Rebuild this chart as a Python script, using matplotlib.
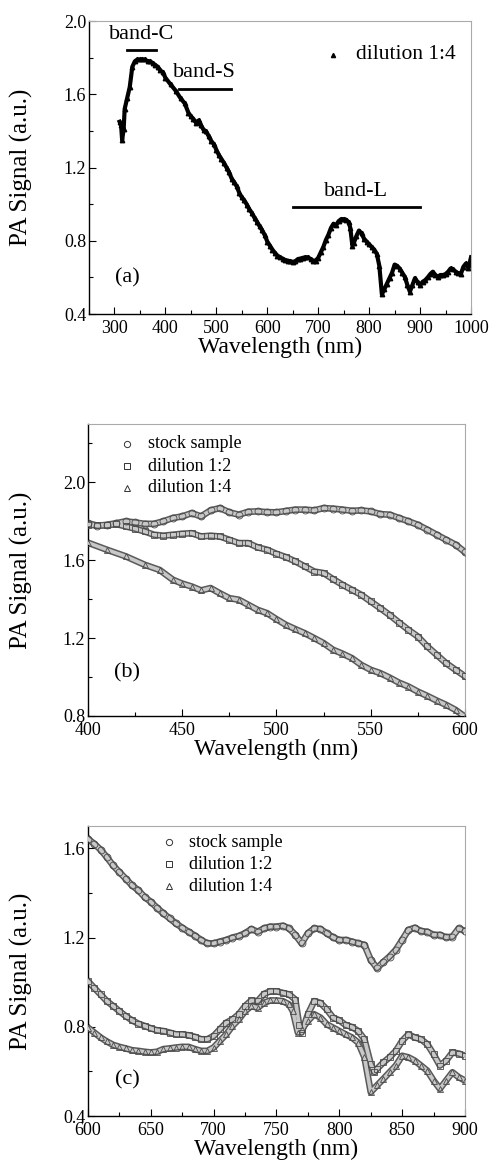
import numpy as np
import matplotlib.pyplot as plt
from matplotlib.ticker import MultipleLocator

plt.rcParams['font.family'] = ['Liberation Serif', 'DejaVu Serif']

# ─── Data ────────────────────────────────────────────────
# dilution 1:4, full range 310-1000 nm
wl_d14 = [310, 313, 315, 318, 320, 325, 330, 335, 340, 345, 350, 355, 360, 365, 370,
          375, 380, 385, 390, 395,
          400, 410, 420, 430, 438, 445, 450, 455, 460, 465, 470, 475, 480, 485, 490,
          495, 500, 505, 510, 515, 520, 525, 530, 535, 540, 545, 550, 555, 560, 565,
          570, 575, 580, 585, 590, 595,
          600, 605, 610, 615, 620, 625, 630, 635, 640, 645, 650, 655, 660, 665, 670,
          675, 680, 685, 690, 695, 700, 705, 710, 715, 720, 725, 730, 735, 740, 745,
          750, 755, 760, 763, 767, 770, 775, 780, 785, 790, 795, 800, 805, 810, 815,
          820, 825, 830, 835, 840, 845, 850, 855, 860, 865, 870, 875, 880, 885, 890,
          895, 900, 905, 910, 915, 920, 925, 930, 935, 940, 945, 950, 955, 960, 965,
          970, 975, 980, 985, 990, 995, 1000]
sig_d14 = [1.45, 1.43, 1.35, 1.41, 1.52, 1.58, 1.64, 1.75, 1.78, 1.79, 1.79, 1.79, 1.79, 1.78, 1.78,
           1.77, 1.76, 1.75, 1.73, 1.72,
           1.69, 1.654, 1.62, 1.577, 1.55, 1.50, 1.48, 1.465, 1.445, 1.457, 1.43, 1.405, 1.397, 1.371, 1.345,
           1.328, 1.297, 1.268, 1.246, 1.225, 1.20, 1.174, 1.14, 1.12, 1.097, 1.062, 1.037, 1.02, 0.997, 0.971,
           0.951, 0.925, 0.903, 0.879, 0.857, 0.831,
           0.796, 0.774, 0.752, 0.734, 0.719, 0.71, 0.703, 0.695, 0.692, 0.688, 0.685, 0.688, 0.70, 0.703, 0.707,
           0.71, 0.71, 0.70, 0.692, 0.692, 0.707, 0.737, 0.766, 0.804, 0.833, 0.87, 0.893, 0.885, 0.907, 0.918,
           0.918, 0.915, 0.90, 0.87, 0.774, 0.789, 0.826, 0.856, 0.841, 0.811, 0.796, 0.781, 0.766, 0.752, 0.729,
           0.663, 0.507, 0.537, 0.566, 0.596, 0.626, 0.67, 0.663, 0.648, 0.626, 0.603, 0.559, 0.522, 0.559, 0.596,
           0.574, 0.559, 0.576, 0.585, 0.60, 0.618, 0.631, 0.613, 0.604, 0.613, 0.613, 0.618, 0.631, 0.649, 0.644,
           0.631, 0.622, 0.618, 0.658, 0.676, 0.649, 0.71]

# stock sample, 400-900 nm
wl_s = [400, 405, 410, 415, 420, 425, 430, 435, 440, 445, 450, 455, 460, 465, 470,
        475, 480, 485, 490, 495, 500, 505, 510, 515, 520, 525, 530, 535, 540, 545,
        550, 555, 560, 565, 570, 575, 580, 585, 590, 595,
        600, 605, 610, 615, 620, 625, 630, 635, 640, 645, 650, 655, 660, 665, 670,
        675, 680, 685, 690, 695, 700, 705, 710, 715, 720, 725, 730, 735, 740, 745,
        750, 755, 760, 765, 770, 775, 780, 785, 790, 795, 800, 805, 810, 815, 820,
        825, 830, 835, 840, 845, 850, 855, 860, 865, 870, 875, 880, 885, 890, 895, 900]
sig_stock = [1.79, 1.777, 1.782, 1.79, 1.80, 1.794, 1.787, 1.787, 1.80, 1.817, 1.825, 1.842, 1.825, 1.856, 1.868,
             1.846, 1.834, 1.849, 1.851, 1.847, 1.846, 1.853, 1.86, 1.86, 1.856, 1.868, 1.865, 1.86, 1.854, 1.856,
             1.851, 1.837, 1.834, 1.817, 1.80, 1.782, 1.757, 1.731, 1.705, 1.68,
             1.642, 1.62, 1.594, 1.56, 1.523, 1.493, 1.464, 1.434, 1.412, 1.382, 1.36, 1.333, 1.308, 1.286, 1.263,
             1.244, 1.226, 1.209, 1.189, 1.174, 1.174, 1.182, 1.189, 1.20, 1.207, 1.219, 1.238, 1.226, 1.241, 1.249,
             1.249, 1.253, 1.241, 1.212, 1.174, 1.219, 1.241, 1.238, 1.219, 1.201, 1.189, 1.189, 1.182, 1.174, 1.167,
             1.10, 1.063, 1.09, 1.115, 1.145, 1.189, 1.234, 1.244, 1.229, 1.226, 1.212, 1.212, 1.201, 1.204, 1.241, 1.229]

# dilution 1:2, 400-900 nm
wl_d12 = [400, 405, 410, 415, 420, 425, 430, 435, 440, 445, 450, 455, 460, 465, 470,
          475, 480, 485, 490, 495, 500, 505, 510, 515, 520, 525, 530, 535, 540, 545,
          550, 555, 560, 565, 570, 575, 580, 585, 590, 595,
          600, 605, 610, 615, 620, 625, 630, 635, 640, 645, 650, 655, 660, 665, 670,
          675, 680, 685, 690, 695, 700, 705, 710, 715, 720, 725, 730, 735, 740, 745,
          750, 755, 760, 765, 768, 770, 775, 780, 785, 790, 795, 800, 805, 810, 815,
          820, 825, 828, 830, 835, 840, 845, 850, 855, 860, 865, 870, 875, 880, 885,
          890, 895, 900]
sig_d12 = [1.782, 1.779, 1.779, 1.786, 1.774, 1.762, 1.748, 1.731, 1.726, 1.731, 1.736, 1.739, 1.722, 1.726, 1.722,
           1.705, 1.688, 1.688, 1.666, 1.654, 1.633, 1.616, 1.594, 1.568, 1.542, 1.534, 1.503, 1.474, 1.448, 1.422,
           1.388, 1.354, 1.319, 1.28, 1.242, 1.208, 1.157, 1.114, 1.071, 1.037,
           1.004, 0.974, 0.945, 0.915, 0.893, 0.87, 0.848, 0.829, 0.814, 0.804, 0.793, 0.784, 0.781, 0.774, 0.766,
           0.766, 0.762, 0.755, 0.744, 0.744, 0.759, 0.789, 0.818, 0.833, 0.856, 0.893, 0.918, 0.915, 0.947, 0.959,
           0.959, 0.952, 0.945, 0.922, 0.81, 0.774, 0.856, 0.915, 0.907, 0.878, 0.841, 0.829, 0.808, 0.799, 0.781,
           0.744, 0.633, 0.596, 0.611, 0.64, 0.663, 0.692, 0.737, 0.766, 0.752, 0.744, 0.722, 0.677, 0.626, 0.648,
           0.685, 0.68, 0.67]

# band annotations for panel (a)
band_names = ['band-C', 'band-S', 'band-L']
band_start = [325, 426, 651]
band_end = [381, 528, 899]
band_level = [1.84, 1.63, 0.982]

legend_names = ['stock sample', 'dilution 1:2', 'dilution 1:4']
legend_marks = ['o', 's', '^']

# ─── Styling helpers ─────────────────────────────────────
TICK_FS = 13
LABEL_FS = 18
EDGE = '#5a5a5a'


def style_axes(ax, xmaj, xmin, ymaj, ymin):
    ax.xaxis.set_major_locator(MultipleLocator(xmaj))
    ax.xaxis.set_minor_locator(MultipleLocator(xmin))
    ax.yaxis.set_major_locator(MultipleLocator(ymaj))
    ax.yaxis.set_minor_locator(MultipleLocator(ymin))
    ax.tick_params(which='both', direction='in', top=False, right=False,
                   labelsize=TICK_FS, width=0.8)
    ax.tick_params(which='major', length=5)
    ax.tick_params(which='minor', length=3)
    ax.tick_params(axis='x', which='major', pad=4)
    ax.tick_params(axis='y', which='major', pad=2)
    for s in ['left', 'bottom']:
        ax.spines[s].set_linewidth(1.0)
    for s in ['top', 'right']:
        ax.spines[s].set_color('#aaaaaa')
        ax.spines[s].set_linewidth(0.8)
    ax.set_xlabel('Wavelength (nm)', fontsize=17, labelpad=0)
    ax.set_ylabel('PA Signal (a.u.)', fontsize=LABEL_FS)
    ax.yaxis.set_label_coords(-0.147, 0.5)


fig = plt.figure(figsize=(4.91, 11.67), dpi=100)
ax_a = fig.add_axes([0.1813, 0.7309, 0.778, 0.2511])
ax_b = fig.add_axes([0.1792, 0.3865, 0.7678, 0.2502])
ax_c = fig.add_axes([0.1792, 0.0437, 0.7678, 0.2485])

# ─── Panel (a) ───────────────────────────────────────────
ax_a.plot(wl_d14, sig_d14, linestyle='-', color='black', lw=3.0,
          marker='^', ms=3.2, mfc='black', mec='black')
ax_a.set_xlim(250, 1000)
ax_a.set_ylim(0.4, 2.0)
style_axes(ax_a, 100, 50, 0.4, 0.2)
for name, x0, x1, lev in zip(band_names, band_start, band_end, band_level):
    ax_a.plot([x0, x1], [lev, lev], color='black', lw=2)
    ax_a.text((x0 + x1) / 2, lev + 0.035, name, ha='center', va='bottom', fontsize=16)
ax_a.text(325, 0.6, '(a)', ha='center', va='center', fontsize=16)
ax_a.plot([0.64], [0.885], marker='^', ms=3, color='black', ls='none', transform=ax_a.transAxes)
ax_a.text(0.70, 0.885, 'dilution 1:4', transform=ax_a.transAxes, ha='left', va='center', fontsize=15.5)


# ─── Panels (b) and (c) ──────────────────────────────────
def draw_series(ax):
    for wl, sig, mk in zip([wl_s, wl_d12, wl_d14], [sig_stock, sig_d12, sig_d14], legend_marks):
        ax.plot(wl, sig, color=EDGE, lw=4.8, solid_capstyle='butt', zorder=2)
        ax.plot(wl, sig, color='#c8c8c8', lw=2.6, solid_capstyle='butt', zorder=3)
        ax.plot(wl, sig, ls='none', marker=mk, ms=5, mfc='none', mec='#4a4a4a', mew=0.6, zorder=4)


def draw_legend(ax, x_mark, x_text, ys):
    for nm, mk, yy in zip(legend_names, legend_marks, ys):
        ax.plot([x_mark], [yy], marker=mk, ms=4.5, mfc='white', mec='#333333', mew=0.7,
                ls='none', transform=ax.transAxes)
        ax.text(x_text, yy, nm, transform=ax.transAxes, ha='left', va='center', fontsize=13)


draw_series(ax_b)
ax_b.set_xlim(400, 600)
ax_b.set_ylim(0.8, 2.3)
style_axes(ax_b, 50, 25, 0.4, 0.2)
ax_b.text(420.5, 1.02, '(b)', ha='center', va='center', fontsize=16)
draw_legend(ax_b, 0.103, 0.158, [0.933, 0.856, 0.781])

draw_series(ax_c)
ax_c.set_xlim(600, 900)
ax_c.set_ylim(0.4, 1.7)
style_axes(ax_c, 50, 25, 0.4, 0.2)
ax_c.text(631, 0.56, '(c)', ha='center', va='center', fontsize=16)
draw_legend(ax_c, 0.214, 0.268, [0.944, 0.868, 0.792])

plt.savefig('out.png', dpi=100)
